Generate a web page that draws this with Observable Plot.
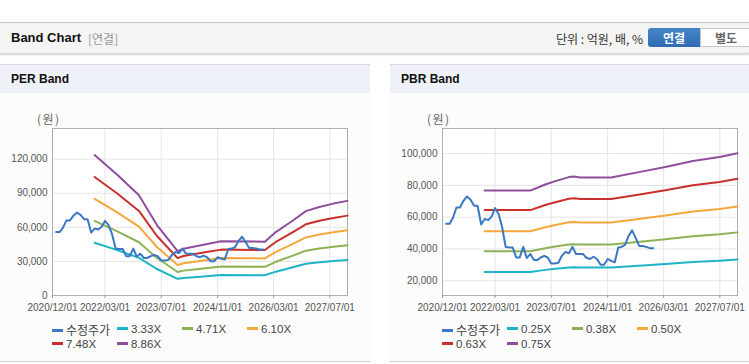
<!DOCTYPE html>
<html>
<head>
<meta charset="utf-8">
<script src="https://cdn.jsdelivr.net/npm/d3@7"></script>
<script src="https://cdn.jsdelivr.net/npm/@observablehq/plot@0.6"></script>
<style>
  html, body { margin: 0; padding: 0; background: #fff; }
  body { width: 749px; height: 364px; position: relative; overflow: hidden;
         font-family: "Liberation Sans", "Noto Sans CJK KR", sans-serif; }
  .abs { position: absolute; }
  #hdr { left: 0; top: 22px; width: 749px; height: 30px; background: #f4f4f4;
         border-top: 1px solid #c6c6c6; border-bottom: 1px solid #d4d4d4;
         box-shadow: 0 1px 2px rgba(0,0,0,0.18); }
  .ttl { font-weight: bold; color: #111; }
  .panel { top: 64px; height: 297px; border-bottom: 1px solid #cfcfcf; background: #fcfcfc; }
  .pbar { left: 0; top: 0; right: 0; height: 28px; background: #eef2f8; border-top: 1px solid #d9d9d9; }
  .unit { font-size: 12px; color: #666; letter-spacing: 1.5px; font-family: "Noto Sans CJK KR", sans-serif; }
  .legend { font-size: 11.5px; color: #444; }
  .item { position: absolute; height: 15px; line-height: 15px; white-space: nowrap; }
  .sw { display: inline-block; width: 11px; height: 3px; vertical-align: middle; margin-right: 3px; position: relative; top: -1px; }
</style>
</head>
<body>
<script>
// ---------- data ----------
const xTickLabels = ["2020/12/01", "2022/03/01", "2023/07/01", "2024/11/01", "2026/03/01", "2027/07/01"];
const xDomain = ["2020-12-01", "2027-12-01"];

const priceMonths = [
  "2021-01","2021-02","2021-03","2021-04","2021-05","2021-06","2021-07","2021-08","2021-09","2021-10","2021-11","2021-12",
  "2022-01","2022-02","2022-03","2022-04","2022-05","2022-06","2022-07","2022-08","2022-09","2022-10","2022-11","2022-12",
  "2023-01","2023-02","2023-03","2023-04","2023-05","2023-06","2023-07","2023-08","2023-09","2023-10","2023-11","2023-12",
  "2024-01","2024-02","2024-03","2024-04","2024-05","2024-06","2024-07","2024-08","2024-09","2024-10","2024-11","2024-12",
  "2025-01","2025-02","2025-03","2025-04","2025-05","2025-06","2025-07","2025-08","2025-09","2025-10","2025-11","2025-12"];
const priceValues = [
  55800, 55800, 59500, 66100, 66100, 70300, 73000, 71000, 67200, 67200, 55400, 58900,
  58100, 60500, 65700, 62000, 54000, 41300, 41000, 40900, 34650, 34650, 41300, 34300,
  36800, 33000, 33000, 34650, 35700, 34650, 30900, 30900, 31300, 35700, 38200, 37300,
  41300, 36800, 36800, 36800, 34500, 33700, 35100, 33700, 30100, 30100, 33700, 32500,
  31600, 40900, 41300, 42500, 48100, 51700, 47100, 41900, 41900, 41300, 40500, 40500];

// PER band
const perDates = ["2021-12-01","2022-06-15","2022-12-20","2023-05-25","2023-11-20","2024-01-10","2024-07-01",
                  "2024-12-01","2025-12-15","2026-03-20","2026-08-15","2026-12-05","2027-04-01","2027-08-01","2027-12-01"];
const per333 = [46450, 39960, 33130, 23310, 14650, 15490, 16820, 17980, 17820, 20980, 24810, 27910, 29300, 30400, 31300];
const per471 = [65700, 56520, 46860, 32970, 20720, 21900, 23790, 25430, 25200, 29670, 35090, 39470, 41450, 43000, 44270];
const per610 = [85100, 73200, 60700, 42700, 26840, 28370, 30810, 32940, 32640, 38430, 45450, 51120, 53680, 55690, 57340];
const per748 = [104350, 89760, 74430, 52360, 32910, 34780, 37770, 40390, 40020, 47120, 55730, 62680, 65820, 68290, 70310];
const per886 = [123600, 106320, 88160, 62020, 38980, 41200, 44740, 47840, 47400, 55820, 66010, 74250, 77970, 80890, 83280];
const perLabels = ["수정주가", "3.33X", "4.71X", "6.10X", "7.48X", "8.86X"];
const perYTicks = [0, 30000, 60000, 90000, 120000];
const perYDomain = [0, 147000];

// PBR band
const pbrDates = ["2021-12-01","2023-01-01","2023-05-10","2023-08-05","2023-12-01","2024-01-15","2024-03-10",
                  "2024-12-01","2025-09-01","2026-03-15","2026-11-10","2027-06-28","2027-12-01"];
const pbr025 = [25580, 25580, 26850, 27550, 28400, 28500, 28330, 28330, 29600, 30500, 31750, 32600, 33380];
const pbr038 = [38570, 38570, 40510, 41570, 42870, 43020, 42750, 42750, 44690, 46060, 47960, 49250, 50430];
const pbr050 = [51150, 51150, 53700, 55100, 56800, 57000, 56650, 56650, 59200, 61000, 63500, 65200, 66750];
const pbr063 = [64450, 64450, 67660, 69430, 71570, 71820, 71380, 71380, 74590, 76860, 80010, 82150, 84110];
const pbr075 = [76730, 76730, 80550, 82650, 85200, 85500, 84980, 84980, 88800, 91500, 95250, 97800, 100130];
const pbrLabels = ["수정주가", "0.25X", "0.38X", "0.50X", "0.63X", "0.75X"];
const pbrYTicks = [20000, 40000, 60000, 80000, 100000];
const pbrYDomain = [10740, 115750];

const colors = ["#3a78c4", "#1db4c9", "#8db253", "#f4a83c", "#c9302c", "#8e4e9c"];

// ---------- page chrome ----------
function el(tag, cls, style, text, parent) {
  const e = document.createElement(tag);
  if (cls) e.className = cls;
  Object.assign(e.style, style || {});
  if (text != null) e.textContent = text;
  (parent || document.body).appendChild(e);
  return e;
}
el("div", "abs", {id: ""}).id = "hdr";
el("div", "abs ttl", {left: "11px", top: "30px", fontSize: "13px"}, "Band Chart");
el("div", "abs", {left: "88px", top: "31px", fontSize: "12px", color: "#999", fontFamily: "'Noto Sans CJK KR', sans-serif", lineHeight: "15px"}, "[연결]");
el("div", "abs", {right: "106px", top: "31px", fontSize: "12px", color: "#333", fontFamily: "'Noto Sans CJK KR', sans-serif", lineHeight: "15px"}, "단위 : 억원, 배, %");
el("div", "abs", {left: "648px", top: "28px", width: "52px", height: "19px", lineHeight: "19px", textAlign: "center",
  background: "linear-gradient(#4585c9, #2f6db3)", color: "#fff", fontWeight: "bold", fontSize: "12px",
  borderRadius: "3px 0 0 3px", fontFamily: "'Noto Sans CJK KR', sans-serif"}, "연결");
el("div", "abs", {left: "700px", top: "28px", width: "50px", height: "17px", lineHeight: "17px", textAlign: "center",
  background: "#fff", color: "#666", fontWeight: "bold", fontSize: "12px", border: "1px solid #c8c8c8",
  fontFamily: "'Noto Sans CJK KR', sans-serif"}, "별도");

function xDate(s) { return new Date(s); }

function panel(left, width, title, marginRight, bandDates, bands, labels, yTicks, yDomain) {
  const p = el("div", "abs panel", {left: left + "px", width: width + "px"});
  const bar = el("div", "abs pbar", {}, null, p);
  el("div", "abs ttl", {left: "11px", top: "7px", fontSize: "12px"}, title, bar);
  el("div", "abs unit", {left: "37px", top: "46px"}, "(원)", p);

  const xTicks = xTickLabels.map(s => new Date(s.replace(/\//g, "-")));
  const marks = [
    Plot.frame({fill: "#fff", stroke: null}),
    Plot.gridX(xTicks, {stroke: "#e4e4e4", strokeOpacity: 1}),
    Plot.gridY(yTicks, {stroke: "#e4e4e4", strokeOpacity: 1}),
    Plot.frame({stroke: "#b0b0b0"}),
    Plot.axisX(xTicks, {tickSize: 3, tickPadding: 5, stroke: "#999", fill: "#555",
      tickFormat: d3.utcFormat("%Y/%m/%d")}),
    Plot.axisY(yTicks, {tickSize: 0, tickPadding: 5, fill: "#555", tickFormat: d3.format(",")})
  ];
  bands.forEach((arr, k) => {
    const data = bandDates.map((d, i) => ({date: xDate(d), value: arr[i]}));
    marks.push(Plot.line(data, {x: "date", y: "value", stroke: colors[k + 1], strokeWidth: 2}));
  });
  const priceData = priceMonths.map((m, i) => ({date: xDate(m + "-01"), value: priceValues[i]}));
  marks.push(Plot.line(priceData, {x: "date", y: "value", stroke: colors[0], strokeWidth: 2}));

  const svg = Plot.plot({
    width: width, height: 225,
    marginLeft: 52, marginRight: marginRight, marginTop: 33, marginBottom: 25,
    style: {fontFamily: "'Liberation Sans', Arial, sans-serif", fontSize: "10px", background: "transparent", overflow: "visible"},
    x: {type: "utc", domain: xDomain.map(xDate), label: null},
    y: {domain: yDomain, label: null},
    marks
  });
  svg.style.position = "absolute";
  svg.style.left = "0px";
  svg.style.top = "31px";
  p.appendChild(svg);

  const lg = el("div", "abs legend", {left: "52px", top: "258px", width: "280px", height: "32px"}, null, p);
  labels.forEach((lab, i) => {
    const it = el("div", "item", {left: (i % 4) * 65 + "px", top: Math.floor(i / 4) * 15 + "px"}, null, lg);
    el("span", "sw", {background: colors[i]}, null, it);
    const t = el("span", "", {}, lab, it);
    if (i === 0) { t.style.fontFamily = "'Noto Sans CJK KR', sans-serif"; t.style.fontSize = "12px"; }
  });
}

panel(0, 370, "PER Band", 23, perDates, [per333, per471, per610, per748, per886], perLabels, perYTicks, perYDomain);
panel(390, 359, "PBR Band", 12, pbrDates, [pbr025, pbr038, pbr050, pbr063, pbr075], pbrLabels, pbrYTicks, pbrYDomain);
</script>
</body>
</html>
